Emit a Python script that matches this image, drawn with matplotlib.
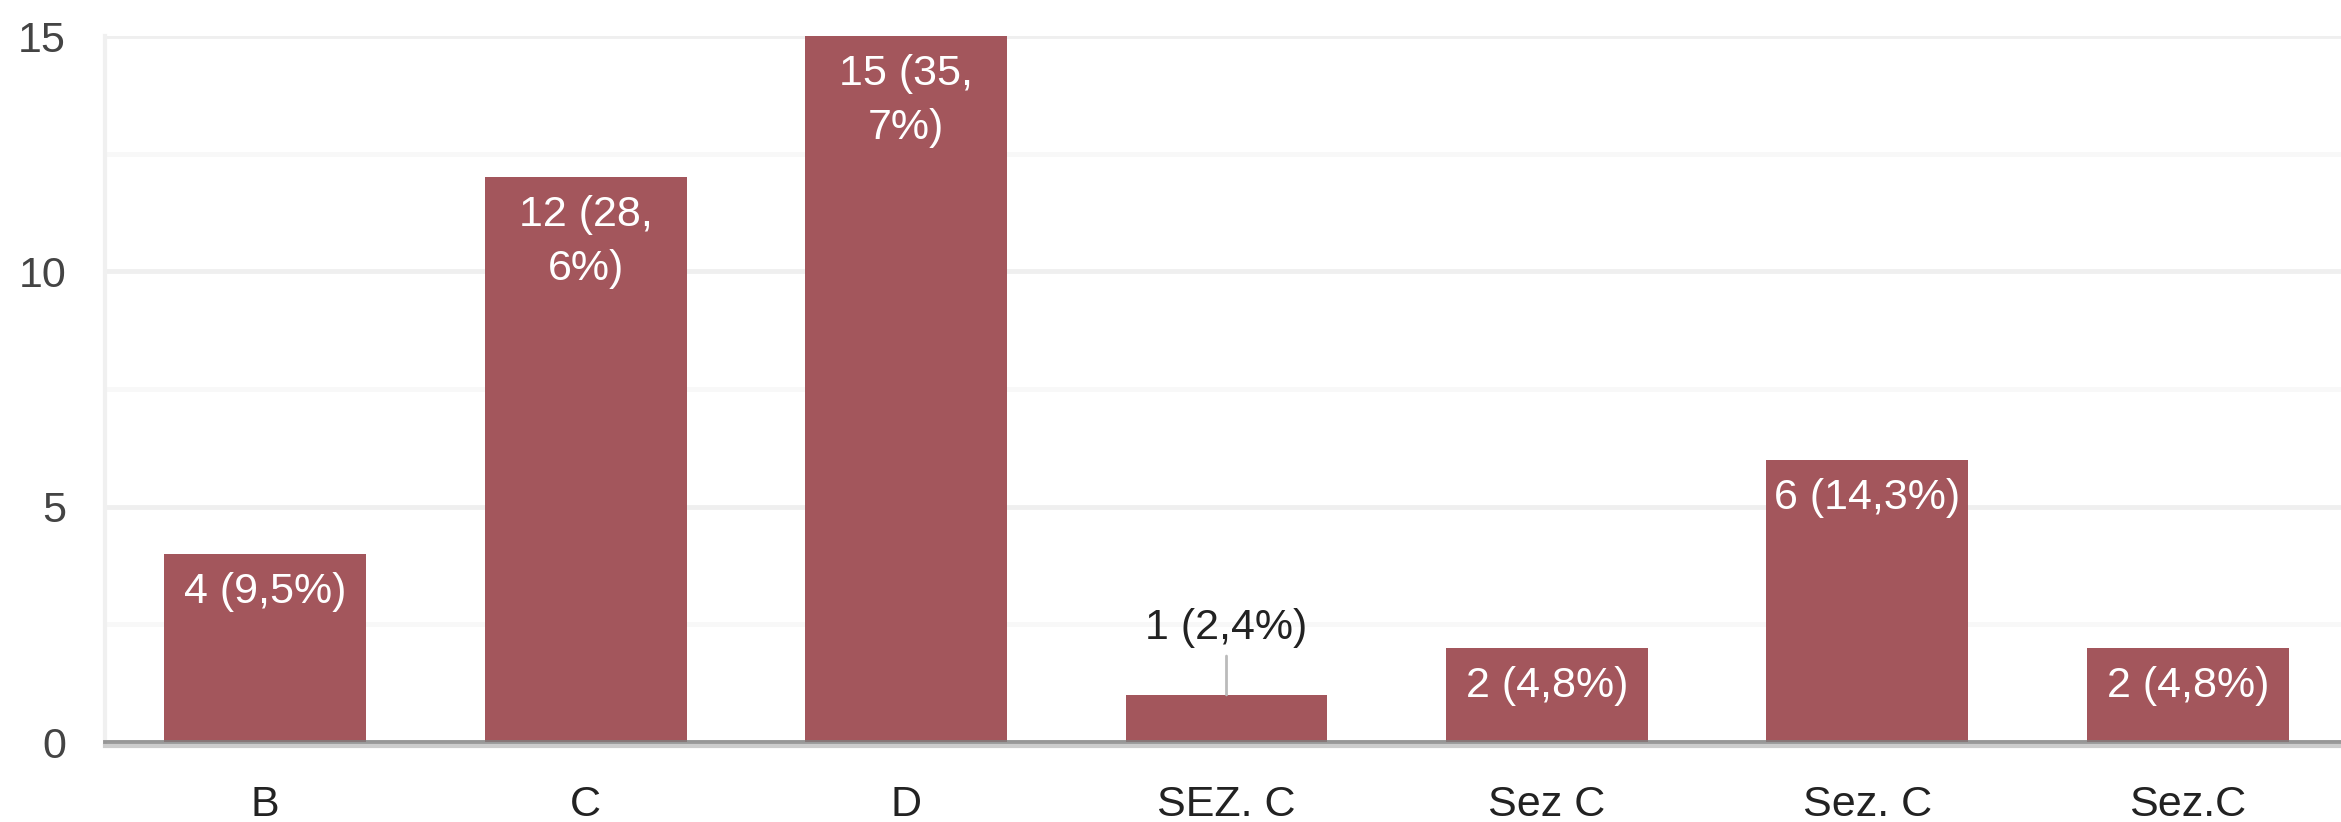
import matplotlib
matplotlib.use("Agg")
import matplotlib.pyplot as plt
import matplotlib.transforms as mtransforms

plt.rcParams['font.family'] = ['Liberation Sans', 'DejaVu Sans']

categories = ["B", "C", "D", "SEZ. C", "Sez C", "Sez. C", "Sez.C"]
counts = [4, 12, 15, 1, 2, 6, 2]
percents = ["9,5", "28,6", "35,7", "2,4", "4,8", "14,3", "4,8"]
wrap_label = [False, True, True, False, False, False, False]
y_ticks = [0, 5, 10, 15]
y_minor = [2.5, 7.5, 12.5]

bar_color = "#a3565c"
FS = 31

W, H = 2341, 822
fig = plt.figure(figsize=(W / 100, H / 100), dpi=100)
ax = fig.add_axes([105 / W, 80 / H, (2348 - 105) / W, (742 - 36) / H])

x = list(range(len(categories)))
ax.bar(x, counts, width=0.63, color=bar_color, zorder=2)

ax.set_xlim(-0.5, len(categories) - 0.5)
ax.set_ylim(0, 15)
ax.set_yticks(y_ticks)
ax.set_yticks(y_minor, minor=True)
ax.set_xticks(x)
ax.set_xticklabels(categories)
ax.grid(which='major', axis='y', color='#efefef', lw=3.5, zorder=0)
ax.grid(which='minor', axis='y', color='#f8f8f8', lw=3.5, zorder=0)
ax.grid(which='both', axis='x', visible=False)
ax.set_axisbelow(True)

for s in ['top', 'right', 'bottom']:
    ax.spines[s].set_visible(False)
ax.spines['left'].set_color('#f0f0f0')
ax.spines['left'].set_linewidth(3)

ax.tick_params(axis='y', which='both', length=0, pad=28, labelsize=FS, labelcolor='#444444')
ax.tick_params(axis='x', which='both', length=0, pad=31, labelsize=FS, labelcolor='#222222')

# baseline
ax.axhline(0, color='#808080', alpha=0.8, lw=3.5, zorder=3, clip_on=False)
off = mtransforms.ScaledTranslation(0, -4 / 100, fig.dpi_scale_trans)
ax.plot([0, 1], [0, 0], transform=ax.get_yaxis_transform() + off,
        color='#cccccc', lw=3, zorder=3, clip_on=False)

for i, (c, p, w) in enumerate(zip(counts, percents, wrap_label)):
    if w:
        label = f"{c} ({p.split(',')[0]},\n{p.split(',')[1]}%)"
    else:
        label = f"{c} ({p}%)"
    if c < 1.5:
        ax.annotate(label, xy=(i, c), xytext=(0, 34), textcoords='offset points',
                    ha='center', va='bottom', fontsize=FS, color='#222222',
                    arrowprops=dict(arrowstyle='-', color='#bbbbbb', lw=2,
                                    shrinkA=4, shrinkB=0), zorder=4)
    else:
        ax.annotate(label, xy=(i, c), xytext=(0, -13), textcoords='offset points',
                    ha='center', va='top', fontsize=FS, color='white',
                    linespacing=1.45, zorder=4)

fig.savefig("out.png", dpi=100)
